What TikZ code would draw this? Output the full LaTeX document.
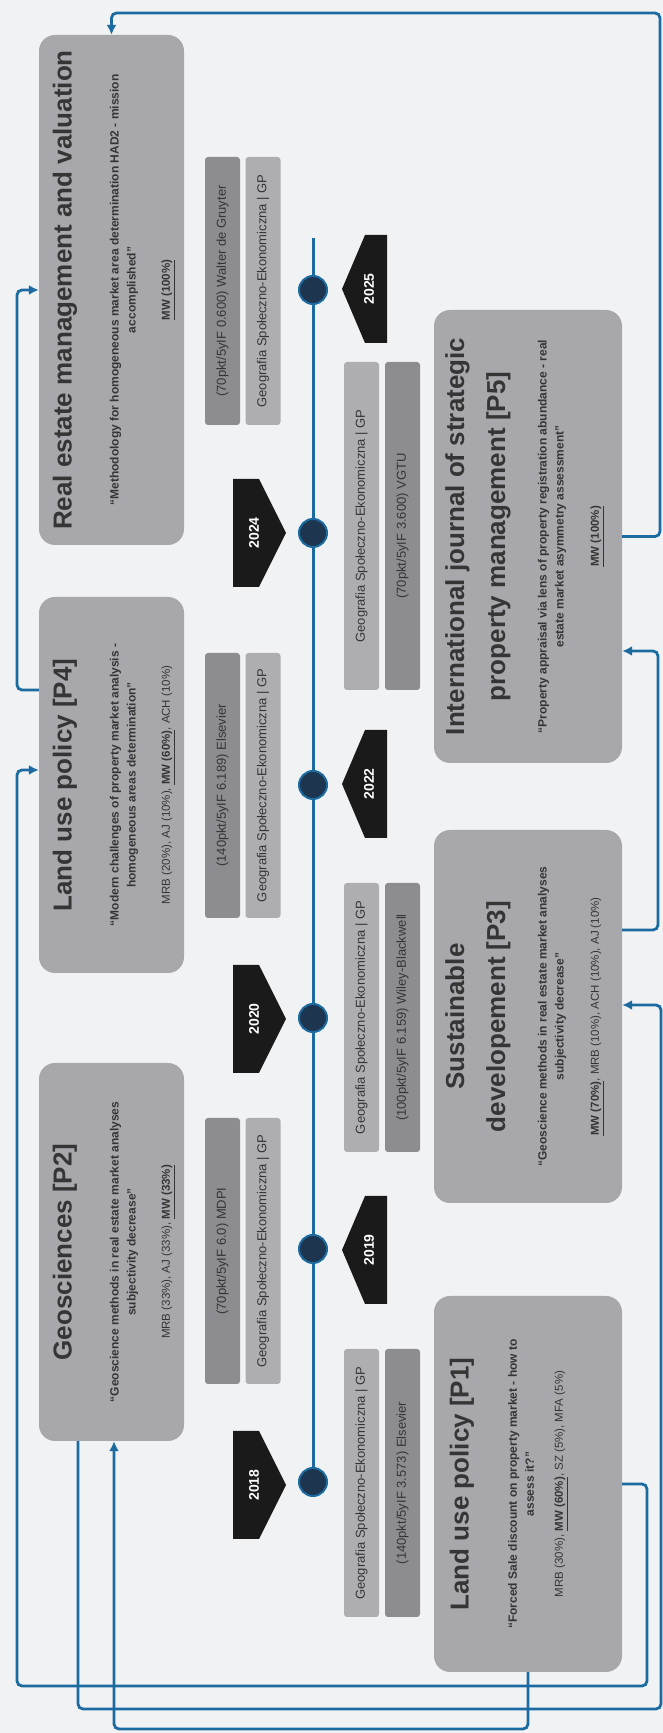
\documentclass[tikz,border=0pt]{standalone}
\usepackage{fontspec}
\setmainfont{Liberation Sans}
\usetikzlibrary{arrows.meta,calc}
\definecolor{bg}{HTML}{F1F2F4}
\definecolor{boxgray}{HTML}{A8A8AC}
\definecolor{darkstrip}{HTML}{8D8D91}
\definecolor{lightstrip}{HTML}{AEAEB2}
\definecolor{linkblue}{HTML}{1B6AA0}
\definecolor{dotnavy}{HTML}{1E3550}
\definecolor{txt}{HTML}{353535}
\definecolor{yrblack}{HTML}{1A1A1A}
\newcommand\mwb[1]{\textbf{\underline{#1}}}
\newcommand\yrdown[3]{%
  \fill[yrblack] (#2-54,233) -- (#2+54,233) -- (#2+54,259) -- (#2,286) -- (#2-54,259) -- cycle;
  \node[yrtext] (#1) at (#2,254) {#3};}
\newcommand\yrup[3]{%
  \fill[yrblack] (#2-54,387) -- (#2+54,387) -- (#2+54,365) -- (#2,342) -- (#2-54,365) -- cycle;
  \node[yrtext] (#1) at (#2,369) {#3};}
\tikzset{
  mainbox/.style={fill=boxgray, rounded corners=16pt, inner sep=0pt},
  pubdark/.style={fill=darkstrip, rounded corners=3pt, inner sep=0pt, minimum height=35pt, font=\fontsize{13}{15}\selectfont, text=txt},
  publight/.style={fill=lightstrip, rounded corners=3pt, inner sep=0pt, minimum height=35pt, font=\fontsize{13}{15}\selectfont, text=txt},
  ttl/.style={font=\bfseries\fontsize{26}{41}\selectfont, text=txt, align=center, inner sep=0pt},
  qt/.style={font=\bfseries\fontsize{12}{17}\selectfont, text=txt, align=center, inner sep=0pt},
  auth/.style={font=\fontsize{11.5}{14}\selectfont, text=txt, inner sep=0pt},
  yrtext/.style={font=\bfseries\fontsize{14}{16}\selectfont, text=white, inner sep=0pt},
  tdot/.style={circle, fill=dotnavy, draw=linkblue, line width=2pt, minimum size=28pt, inner sep=0pt},
  tline/.style={draw=linkblue, line width=3pt},
  link/.style={draw=linkblue, line width=2.8pt, rounded corners=5pt, -{Latex[length=10pt,width=10pt]}}
}
\begin{document}
\begin{tikzpicture}[x=1pt,y=1pt]
\fill[bg] (0,0) rectangle (663,1733);
\useasboundingbox (0,0) rectangle (663,1733);
\begin{scope}[x=1pt, y=-1pt, rotate=90, transform shape]
% main boxes
\node[mainbox, minimum width=510pt, minimum height=145pt] (RE) at (1443,111.5) {};
\node[mainbox, minimum width=376pt, minimum height=145pt] (P4) at (948,111.5) {};
\node[mainbox, minimum width=378pt, minimum height=145pt] (P2) at (481,111.5) {};
\node[mainbox, minimum width=376pt, minimum height=188pt] (P1) at (249,528) {};
\node[mainbox, minimum width=373pt, minimum height=188pt] (P3) at (716.5,528) {};
\node[mainbox, minimum width=453pt, minimum height=188pt] (P5) at (1196.5,528) {};
% texts top row
\node[ttl] (RE-t) at (1443,65) {Real estate management and valuation};
\node[qt] (RE-q) at (1443,124) {\char"201C Methodology for homogeneous market area determination HAD2 - mission\\accomplished\char"201D};
\node[auth] (RE-a) at (1443,168) {\mwb{MW (100\%)}};
\node[ttl] (P4-t) at (948,65) {Land use policy [P4]};
\node[qt] (P4-q) at (948,124) {\char"201C Modern challenges of property market analysis -\\homogeneous areas determination\char"201D};
\node[auth] (P4-a) at (948,168) {MRB (20\%), AJ (10\%), \mwb{MW (60\%)}, ACH (10\%)};
\node[ttl] (P2-t) at (481,65) {Geosciences [P2]};
\node[qt] (P2-q) at (481,124) {\char"201C Geoscience methods in real estate market analyses\\subjectivity decrease\char"201D};
\node[auth] (P2-a) at (481,168) {MRB (33\%), AJ (33\%), \mwb{MW (33\%)}};
% texts bottom row
\node[ttl] (P1-t) at (249,462) {Land use policy [P1]};
\node[qt] (P1-q) at (249,521) {\char"201C Forced Sale discount on property market - how to\\assess it?\char"201D};
\node[auth] (P1-a) at (249,561) {MRB (30\%), \mwb{MW (60\%)}, SZ (5\%), MFA (5\%)};
\node[ttl] (P3-t) at (716.5,478) {Sustainable\\developement [P3]};
\node[qt] (P3-q) at (716.5,552) {\char"201C Geoscience methods in real estate market analyses\\subjectivity decrease\char"201D};
\node[auth] (P3-a) at (716.5,597) {\mwb{MW (70\%)}, MRB (10\%), ACH (10\%), AJ (10\%)};
\node[ttl] (P5-t) at (1196.5,478) {International journal of strategic\\property management [P5]};
\node[qt] (P5-q) at (1196.5,552) {\char"201C Property appraisal via lens of property registration abundance - real\\estate market asymmetry assessment\char"201D};
\node[auth] (P5-a) at (1196.5,597) {\mwb{MW (100\%)}};
% publisher strips top
\node[pubdark, minimum width=268pt] (RE-p1) at (1442,222.5) {(70pkt/5yIF 0.600) Walter de Gruyter};
\node[publight, minimum width=268pt] (RE-p2) at (1442,263) {Geografia Społeczno-Ekonomiczna | GP};
\node[pubdark, minimum width=265pt] (P4-p1) at (947.5,222.5) {(140pkt/5yIF 6.189) Elsevier};
\node[publight, minimum width=265pt] (P4-p2) at (947.5,263) {Geografia Społeczno-Ekonomiczna | GP};
\node[pubdark, minimum width=266pt] (P2-p1) at (482,222.5) {(70pkt/5yIF 6.0) MDPI};
\node[publight, minimum width=266pt] (P2-p2) at (482,263) {Geografia Społeczno-Ekonomiczna | GP};
% publisher strips bottom
\node[publight, minimum width=268pt] (P1-p2) at (250,361.5) {Geografia Społeczno-Ekonomiczna | GP};
\node[pubdark, minimum width=268pt] (P1-p1) at (250,402.5) {(140pkt/5yIF 3.573) Elsevier};
\node[publight, minimum width=269pt] (P3-p2) at (715.5,361.5) {Geografia Społeczno-Ekonomiczna | GP};
\node[pubdark, minimum width=269pt] (P3-p1) at (715.5,402.5) {(100pkt/5yIF 6.159) Wiley-Blackwell};
\node[publight, minimum width=328pt] (P5-p2) at (1207,361.5) {Geografia Społeczno-Ekonomiczna | GP};
\node[pubdark, minimum width=328pt] (P5-p1) at (1207,402.5) {(70pkt/5yIF 3.600) VGTU};
% timeline
\coordinate (tlstart) at (251,313);
\coordinate (tlend) at (1495,313);
\draw[tline] (tlstart) -- (tlend);
\node[tdot] (d2018) at (251,313) {};
\node[tdot] (d2019) at (484,313) {};
\node[tdot] (d2020) at (715,313) {};
\node[tdot] (d2022) at (948,313) {};
\node[tdot] (d2024) at (1200,313) {};
\node[tdot] (d2025) at (1443,313) {};
% years
\yrdown{y2018}{248}{2018}
\yrdown{y2020}{714}{2020}
\yrdown{y2024}{1200}{2024}
\yrup{y2019}{483}{2019}
\yrup{y2022}{949}{2022}
\yrup{y2025}{1444}{2025}
% connectors
\draw[link] (P1.south) -- (249,647) -- (47,647) -- (47,17) -- (963,17) -- ($(P4.north)+(15,0)$);
\draw[link] ($(P4.north)+(95,0)$) -- (1043,17) -- (1443,17) -- (RE.north);
\draw[link] (P5.south) -- (1196.5,660) -- (1720,660) -- (1720,111.5) -- (RE.east);
\draw[link] ($(P3.south)+(86.5,0)$) -- (803,658) -- (1082,658) -- ($(P5.south)+(-114.5,0)$);
\draw[link] ($(P2.west)+(0,-33.5)$) -- (24,78) -- (24,661) -- (728,661) -- ($(P3.south)+(11.5,0)$);
\draw[link] (P1.west) -- (4,528) -- (4,114) -- ($(P2.west)+(0,2.5)$);
\end{scope}
\end{tikzpicture}
\end{document}
